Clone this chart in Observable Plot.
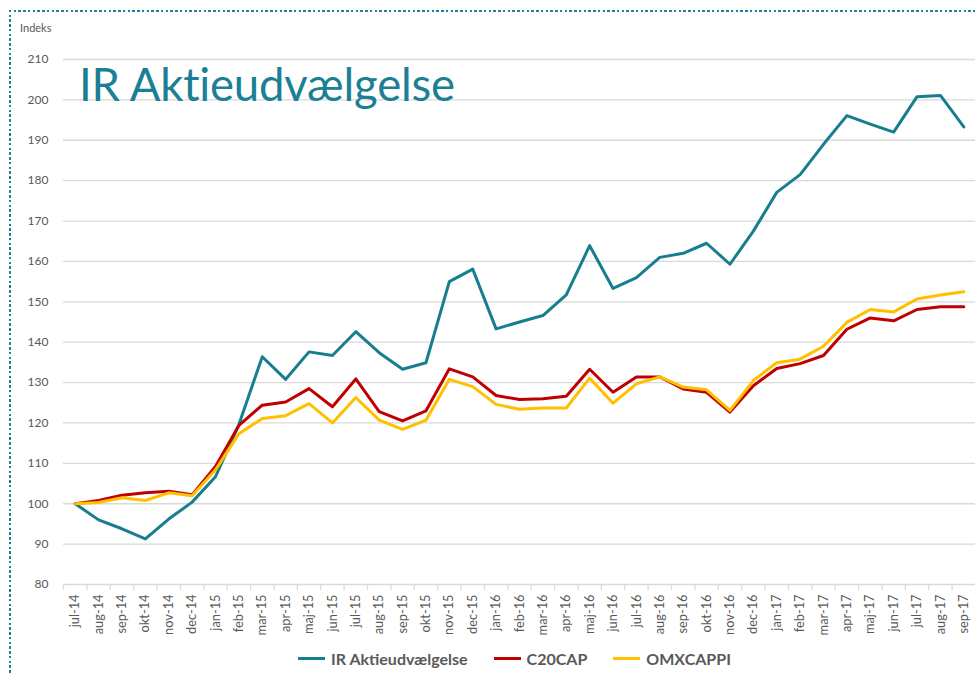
<!DOCTYPE html>
<html><head><meta charset="utf-8">
<script src="https://cdn.jsdelivr.net/npm/d3@7"></script>
<script src="https://cdn.jsdelivr.net/npm/@observablehq/plot@0.6"></script>
<style>
html,body{margin:0;padding:0;background:#fff;}
#wrap{position:relative;width:975px;height:673px;overflow:hidden;font-family:Lato,"Open Sans",sans-serif;}
#chart{position:absolute;left:0;top:0;}
.bt{position:absolute;left:9px;top:10px;width:1000px;height:2.4px;background:repeating-linear-gradient(to right,#1f8398 0 2.4px,transparent 2.4px 4.75px);}
.bl{position:absolute;left:9px;top:10px;width:2.4px;height:700px;background:repeating-linear-gradient(to bottom,#1f8398 0 2.4px,transparent 2.4px 4.75px);}
#title{position:absolute;left:79px;top:61px;font-size:45.5px;color:#1b8095;font-weight:400;letter-spacing:-0.2px;white-space:nowrap;line-height:1;}
#unit{position:absolute;left:20px;top:21px;font-size:11px;color:#595959;}
#legend{position:absolute;left:298px;top:649px;display:flex;align-items:center;font-size:16px;font-weight:700;color:#595959;white-space:nowrap;}
#legend .sw{display:inline-block;width:27px;height:3px;margin-right:6px;}
#legend .it{display:flex;align-items:center;margin-right:26px;}
</style>
</head><body>
<div id="wrap">
  <div id="chart"></div>
  <div class="bt"></div><div class="bl"></div>
  <div id="unit">Indeks</div>
  <div id="title">IR Aktieudvælgelse</div>
  <div id="legend"></div>
</div>
<script>
const months = ["jul-14","aug-14","sep-14","okt-14","nov-14","dec-14","jan-15","feb-15","mar-15","apr-15","maj-15","jun-15","jul-15","aug-15","sep-15","okt-15","nov-15","dec-15","jan-16","feb-16","mar-16","apr-16","maj-16","jun-16","jul-16","aug-16","sep-16","okt-16","nov-16","dec-16","jan-17","feb-17","mar-17","apr-17","maj-17","jun-17","jul-17","aug-17","sep-17"];
const irAktieudvaelgelse = [100,96,93.8,91.3,96.2,100.4,106.7,119.6,136.4,130.8,137.6,136.7,142.6,137.4,133.3,134.9,155,158.1,143.3,145,146.6,151.7,163.9,153.3,156,161,162,164.5,159.3,167.5,177.1,181.5,189,196.1,194,192,200.8,201.1,193.3];
const c20cap = [100,100.8,102.1,102.7,103.1,102.2,109.2,119.4,124.4,125.2,128.5,124,130.9,122.8,120.5,123,133.4,131.4,126.8,125.8,126,126.6,133.3,127.6,131.4,131.4,128.4,127.6,122.7,129.2,133.5,134.7,136.7,143.2,146,145.3,148.1,148.8,148.8];
const omxcappi = [100,100.3,101.5,100.8,102.7,102,108.4,117.3,121.1,121.8,124.8,120,126.3,120.7,118.4,120.7,130.8,129,124.6,123.4,123.7,123.7,131.1,124.9,129.7,131.4,128.9,128.2,123.1,130.5,134.9,135.8,139,144.9,148.1,147.5,150.7,151.7,152.5];
const seriesNames = ["IR Aktieudvælgelse","C20CAP","OMXCAPPI"];
const seriesColors = ["#177e90","#c00000","#ffc000"];
const yTicks = [80,90,100,110,120,130,140,150,160,170,180,190,200,210];

const seriesValues = [irAktieudvaelgelse, c20cap, omxcappi];
const rows = seriesNames.flatMap((name, s) => months.map((m, i) => ({month: m, value: seriesValues[s][i], series: name})));

const W = 975, H = 673, ML = 63, MR = 0;
const step = (W - ML - MR) / months.length;

const chart = Plot.plot({
  width: W, height: H,
  marginLeft: ML, marginRight: MR, marginTop: 59, marginBottom: 89,
  style: {fontFamily: "Lato, 'Open Sans', sans-serif", fontSize: "12px", color: "#595959", background: "#fff"},
  x: {type: "band", domain: months, paddingInner: 0, paddingOuter: 0, round: false, label: null},
  y: {domain: [80, 210], label: null},
  color: {domain: seriesNames, range: seriesColors},
  marks: [
    Plot.gridY(yTicks, {stroke: "#d9d9d9", strokeOpacity: 1, strokeWidth: 1.3}),
    Plot.axisY(yTicks, {tickSize: 0, tickPadding: 15, fill: "#595959", fontSize: 12, label: null}),
    Plot.axisX({tickSize: 6, tickFormat: () => "", dx: -step / 2, stroke: "#d9d9d9", strokeWidth: 1.3, label: null}),
    Plot.axisX({tickSize: 0, tickRotate: -90, tickPadding: 10, fill: "#595959", fontSize: 12.8, label: null}),
    Plot.line(rows, {x: "month", y: "value", z: "series", stroke: "series", strokeWidth: 3, strokeLinejoin: "round"})
  ]
});
document.getElementById("chart").appendChild(chart);

const legend = document.getElementById("legend");
seriesNames.forEach((n, i) => {
  const it = document.createElement("span");
  it.className = "it";
  const sw = document.createElement("span");
  sw.className = "sw";
  sw.style.background = seriesColors[i];
  it.appendChild(sw);
  it.appendChild(document.createTextNode(n));
  legend.appendChild(it);
});
</script>
</body></html>
